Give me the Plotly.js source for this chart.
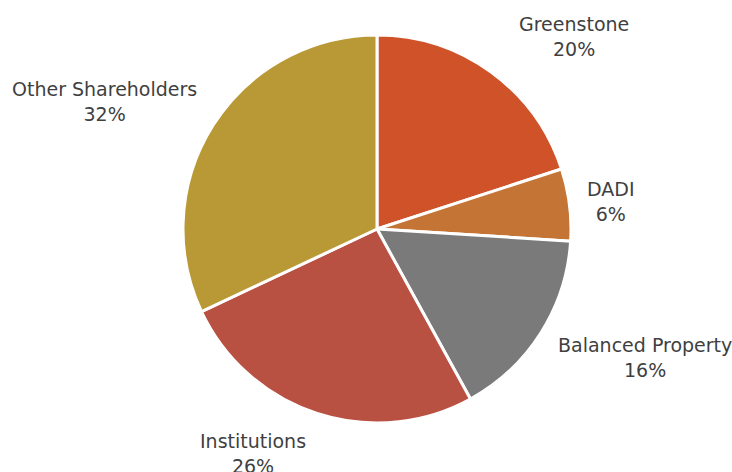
<!DOCTYPE html>
<html>
<head>
<meta charset="utf-8">
<script src="https://cdn.plot.ly/plotly-3.0.1.min.js"></script>
<style>html,body{margin:0;padding:0;background:#fff;}#chart{width:732px;height:472px;}</style>
</head>
<body>
<div id="chart"></div>
<script>
const labels = ["Greenstone", "DADI", "Balanced Property", "Institutions", "Other Shareholders"];
const values = [20, 6, 16, 26, 32];
const colors = ["#CF5229", "#C47536", "#7A7A7A", "#B85142", "#B99936"];
// label placement (pixel centres) for the outside labels
const labelPos = [[574, 36], [611, 201], [645, 357], [253, 453], [104, 102]];

const W = 732, H = 472;
const total = values.reduce((a, b) => a + b, 0);
const cx = 377, cy = 229, r = 194;

const annotations = labels.map((l, i) => ({
  text: l + "<br>" + Math.round(values[i] / total * 100) + "%",
  x: labelPos[i][0] / W, y: 1 - labelPos[i][1] / H,
  xref: "paper", yref: "paper", xanchor: "center", yanchor: "middle",
  showarrow: false,
  font: {family: "DejaVu Sans", size: 19, color: "#3F3F3F"}
}));

const trace = {
  type: "pie",
  labels: labels,
  values: values,
  sort: false,
  direction: "clockwise",
  rotation: 0,
  textinfo: "none",
  hoverinfo: "label+percent",
  marker: {colors: colors, line: {color: "#FFFFFF", width: 3}},
  domain: {x: [(cx - r) / W, (cx + r) / W], y: [(H - cy - r) / H, (H - cy + r) / H]}
};

Plotly.newPlot("chart", [trace], {
  width: W, height: H,
  margin: {l: 0, r: 0, t: 0, b: 0},
  showlegend: false,
  paper_bgcolor: "#FFFFFF",
  annotations: annotations
}, {displayModeBar: false, staticPlot: true});
</script>
</body>
</html>
